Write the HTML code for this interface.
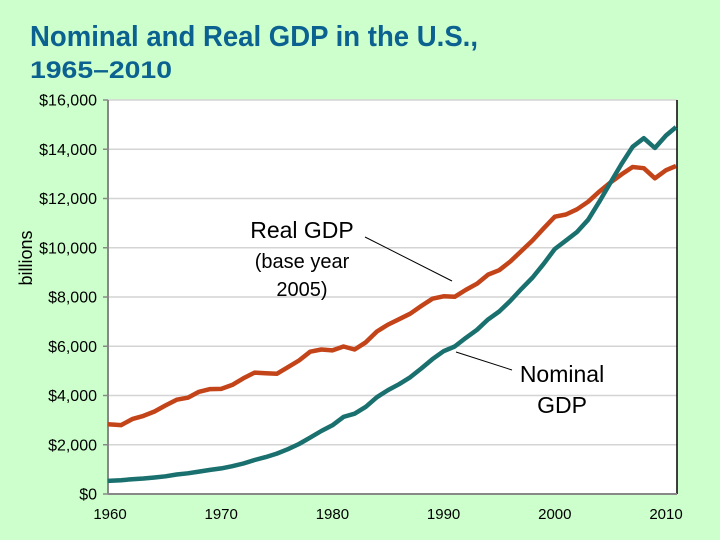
<!DOCTYPE html>
<html><head><meta charset="utf-8"><style>
html,body{margin:0;padding:0;background:#ccffcc;}
svg{display:block;font-family:"Liberation Sans",Arial,sans-serif;}
</style></head><body>
<svg id="chart" width="720" height="540" viewBox="0 0 720 540">
<rect x="0" y="0" width="720" height="540" fill="#ccffcc"/>
<text x="30" y="46" font-size="29" font-weight="bold" fill="#0b6190" textLength="448" lengthAdjust="spacingAndGlyphs">Nominal and Real GDP in the U.S.,</text>
<text x="30" y="78" font-size="24" font-weight="bold" fill="#0b6190" textLength="142" lengthAdjust="spacingAndGlyphs">1965–2010</text>
<rect x="108" y="100" width="569" height="394" fill="#ffffff"/>
<g id="grid"></g>
<line x1="677" y1="100" x2="677" y2="494" stroke="#000" stroke-width="1.5"/>
<line x1="108" y1="100" x2="108" y2="494" stroke="#888" stroke-width="2"/>
<g id="axes"></g>
<g id="series"></g>
<text x="32" y="258" font-size="18" fill="#000" text-anchor="middle" transform="rotate(-90 32 258)">billions</text>
<text x="302" y="238" font-size="23" fill="#000" text-anchor="middle">Real GDP</text>
<text x="302" y="268" font-size="20" fill="#000" text-anchor="middle">(base year</text>
<text x="302" y="296" font-size="20" fill="#000" text-anchor="middle">2005)</text>
<line x1="365" y1="237" x2="452" y2="281" stroke="#000" stroke-width="1"/>
<text x="562" y="382" font-size="23" fill="#000" text-anchor="middle">Nominal</text>
<text x="562" y="413" font-size="23" fill="#000" text-anchor="middle">GDP</text>
<line x1="456" y1="352" x2="512" y2="370" stroke="#000" stroke-width="1"/>
</svg>
<script>
const years = [1959.8,1961,1962,1963,1964,1965,1966,1967,1968,1969,1970,1971,1972,1973,1974,1975,1976,1977,1978,1979,1980,1981,1982,1983,1984,1985,1986,1987,1988,1989,1990,1991,1992,1993,1994,1995,1996,1997,1998,1999,2000,2001,2002,2003,2004,2005,2006,2007,2008,2009,2010,2010.9];
const realGdp = [2830,2800,3040,3170,3350,3600,3830,3910,4150,4260,4270,4430,4700,4930,4900,4880,5150,5420,5780,5870,5830,5990,5870,6160,6600,6880,7100,7320,7640,7930,8030,8010,8290,8540,8910,9090,9440,9870,10300,10790,11260,11350,11560,11870,12280,12650,12980,13280,13230,12820,13150,13320];
const nominalGdp = [530,560,600,630,670,720,790,840,910,980,1040,1130,1240,1380,1500,1640,1820,2030,2290,2560,2790,3130,3260,3540,3930,4220,4460,4740,5100,5480,5800,5990,6340,6670,7090,7410,7840,8330,8790,9350,9950,10290,10640,11140,11870,12640,13400,14100,14450,14050,14560,14900];
const yTicks = [0,2000,4000,6000,8000,10000,12000,14000,16000];
const xTicks = [1960,1970,1980,1990,2000,2010];
const NS='http://www.w3.org/2000/svg';
function x(v){return 110 + (v-1960)*11.12;}
function y(v){return 494 - v/16000*394;}
const grid=document.getElementById('grid'), axes=document.getElementById('axes'), series=document.getElementById('series');
yTicks.forEach(t=>{
  if(t>0){const g=document.createElementNS(NS,'line');
  g.setAttribute('x1',108);g.setAttribute('x2',677);g.setAttribute('y1',y(t));g.setAttribute('y2',y(t));
  g.setAttribute('stroke','#d4d4d4');g.setAttribute('stroke-width','1.5');
  
  
  grid.appendChild(g);}
  const tk=document.createElementNS(NS,'line');
  tk.setAttribute('x1',103);tk.setAttribute('x2',108);tk.setAttribute('y1',y(t));tk.setAttribute('y2',y(t));
  tk.setAttribute('stroke','#888');tk.setAttribute('stroke-width','1.5');
  
  
  axes.appendChild(tk);
  const lb=document.createElementNS(NS,'text');
  lb.setAttribute('x',97);lb.setAttribute('y',y(t)+5.5);lb.setAttribute('text-anchor','end');lb.setAttribute('font-size','16');
  lb.textContent='$'+t.toLocaleString('en-US');
  
  
  axes.appendChild(lb);
});
const xl=document.createElementNS(NS,'line');
xl.setAttribute('x1',108);xl.setAttribute('x2',677);xl.setAttribute('y1',494);xl.setAttribute('y2',494);
xl.setAttribute('stroke','#888');xl.setAttribute('stroke-width','2');


axes.appendChild(xl);
xTicks.forEach(t=>{
  const lb=document.createElementNS(NS,'text');
  lb.setAttribute('x',x(t));lb.setAttribute('y',519);lb.setAttribute('text-anchor','middle');lb.setAttribute('font-size','15');
  lb.textContent=t;
  
  
  axes.appendChild(lb);
});
function draw(vals,color,name){
  const p=document.createElementNS(NS,'polyline');
  p.setAttribute('points',vals.map((v,i)=>x(years[i]).toFixed(1)+','+y(v).toFixed(1)).join(' '));
  p.setAttribute('fill','none');p.setAttribute('stroke',color);p.setAttribute('stroke-width','4.5');p.setAttribute('stroke-linejoin','round');
  
  
  series.appendChild(p);
}
draw(realGdp,'#c4441a','real-gdp-line');
draw(nominalGdp,'#19706e','nominal-gdp-line');
</script>
</body></html>
